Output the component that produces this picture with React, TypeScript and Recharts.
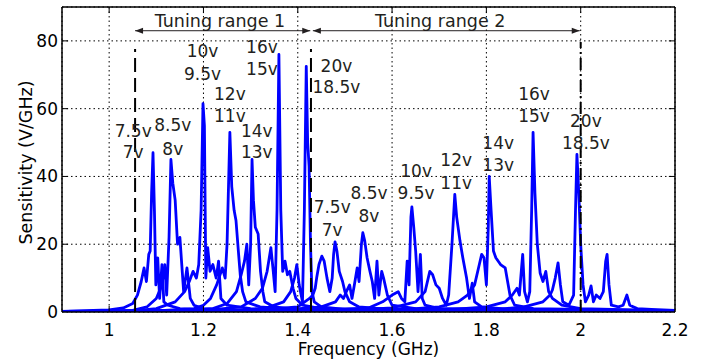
import React from "react";
import {
  LineChart,
  Line,
  XAxis,
  YAxis,
  CartesianGrid,
  ReferenceLine,
  ReferenceDot,
  Label,
} from "recharts";

type Pt = [number, number];

// frequency (GHz), sensitivity (V/GHz)

// tuning range 1
const r1_7v: Pt[] = [
  [0.9, 0.2], [1.0, 0.6], [1.03, 1.2], [1.05, 2.5], [1.06, 5], [1.068, 9], [1.074, 13],
  [1.079, 9], [1.084, 17], [1.087, 18], [1.09, 35], [1.093, 47], [1.096, 30], [1.099, 8],
  [1.103, 16], [1.107, 4], [1.112, 14], [1.116, 3], [1.125, 2], [1.15, 1], [1.2, 0.6],
  [1.3, 0.4], [1.5, 0.3], [2.2, 0.2],
];
const r1_8v: Pt[] = [
  [0.9, 0.1], [1.0, 0.2], [1.05, 0.5], [1.08, 1.5], [1.1, 4], [1.112, 8], [1.118, 14],
  [1.122, 5], [1.127, 22], [1.131, 45], [1.135, 38], [1.14, 33], [1.145, 20], [1.15, 22],
  [1.154, 14], [1.158, 6], [1.165, 13], [1.172, 4], [1.18, 2], [1.2, 1], [1.3, 0.5],
  [1.6, 0.3], [2.2, 0.2],
];
const r1_95v: Pt[] = [
  [0.9, 0.1], [1.05, 0.3], [1.1, 1], [1.14, 3], [1.16, 6], [1.17, 9], [1.178, 12],
  [1.185, 10], [1.19, 14], [1.195, 30], [1.199, 61.5], [1.202, 55], [1.205, 10],
  [1.209, 19], [1.214, 12], [1.22, 14], [1.227, 10], [1.232, 15], [1.237, 4], [1.25, 2],
  [1.3, 1], [1.4, 0.5], [2.2, 0.2],
];
const r1_11v: Pt[] = [
  [0.9, 0.1], [1.1, 0.3], [1.18, 1], [1.2, 2], [1.215, 4], [1.228, 8], [1.24, 13],
  [1.246, 10], [1.25, 20], [1.256, 53], [1.26, 37], [1.265, 30], [1.269, 27], [1.274, 18],
  [1.278, 11], [1.283, 6], [1.29, 3], [1.32, 1.5], [1.4, 0.6], [2.2, 0.2],
];
const r1_13v: Pt[] = [
  [0.9, 0.1], [1.15, 0.3], [1.22, 1], [1.25, 2.5], [1.27, 6], [1.28, 11], [1.287, 15],
  [1.292, 20], [1.296, 8], [1.3, 20], [1.303, 45], [1.306, 33], [1.31, 25], [1.316, 23],
  [1.321, 12], [1.326, 6], [1.33, 3], [1.35, 1.5], [1.4, 0.8], [2.2, 0.2],
];
const r1_15v: Pt[] = [
  [0.9, 0.1], [1.2, 0.4], [1.28, 1.5], [1.31, 4], [1.325, 7], [1.335, 12], [1.343, 19],
  [1.348, 12], [1.352, 6], [1.356, 30], [1.36, 76], [1.364, 30], [1.368, 12], [1.373, 15],
  [1.378, 11], [1.383, 12], [1.39, 7], [1.396, 4], [1.41, 2], [1.45, 1], [2.2, 0.2],
];
const r1_185v: Pt[] = [
  [0.9, 0.1], [1.25, 0.3], [1.33, 1], [1.37, 3], [1.385, 6], [1.393, 10], [1.398, 14],
  [1.403, 8], [1.41, 3], [1.414, 30], [1.418, 72.5], [1.421, 50], [1.424, 43],
  [1.427, 20], [1.43, 6], [1.435, 3], [1.45, 1.5], [1.5, 0.8], [2.2, 0.2],
];

// tuning range 2
const r2_7v: Pt[] = [
  [0.9, 0.2], [1.3, 0.4], [1.4, 1.5], [1.425, 4], [1.432, 5], [1.437, 7], [1.44, 10],
  [1.445, 14], [1.451, 16.5], [1.456, 15], [1.462, 10], [1.468, 6], [1.473, 10],
  [1.476, 17], [1.479, 20.7], [1.483, 18], [1.488, 12], [1.495, 9], [1.5, 6], [1.51, 3],
  [1.53, 1.5], [1.6, 0.7], [2.2, 0.2],
];
const r2_8v: Pt[] = [
  [0.9, 0.2], [1.35, 0.4], [1.45, 1.5], [1.48, 3], [1.49, 5], [1.497, 4], [1.503, 6],
  [1.51, 8], [1.515, 4], [1.52, 8], [1.526, 13], [1.53, 9], [1.535, 20], [1.538, 23.4],
  [1.542, 21], [1.547, 16], [1.553, 12], [1.558, 9], [1.563, 4], [1.568, 15], [1.572, 5],
  [1.578, 12], [1.582, 10], [1.59, 5], [1.6, 2], [1.65, 1], [2.2, 0.3],
];
const r2_95v: Pt[] = [
  [0.9, 0.1], [1.45, 0.4], [1.55, 1.2], [1.58, 3], [1.6, 5], [1.613, 6], [1.62, 4],
  [1.627, 3], [1.632, 15], [1.636, 8], [1.64, 28], [1.642, 31], [1.646, 25], [1.65, 18],
  [1.655, 6], [1.66, 17], [1.664, 4], [1.67, 2], [1.7, 1], [2.2, 0.3],
];
const r2_11v: Pt[] = [
  [0.9, 0.1], [1.5, 0.4], [1.6, 1.2], [1.65, 3], [1.67, 6], [1.68, 12], [1.686, 11],
  [1.693, 8], [1.7, 7], [1.707, 4], [1.715, 2], [1.72, 5], [1.727, 20], [1.733, 34.7],
  [1.737, 28], [1.744, 21], [1.75, 16], [1.758, 10], [1.764, 4], [1.77, 8.5], [1.775, 3],
  [1.79, 1.5], [1.85, 0.8], [2.2, 0.3],
];
const r2_13v: Pt[] = [
  [0.9, 0.1], [1.6, 0.5], [1.7, 1.5], [1.74, 3], [1.76, 5], [1.775, 8], [1.785, 14],
  [1.79, 17], [1.795, 16], [1.8, 8], [1.804, 25], [1.806, 40], [1.81, 30], [1.815, 18],
  [1.82, 16], [1.83, 14], [1.84, 13], [1.845, 9], [1.85, 5], [1.86, 2], [1.9, 1],
  [2.2, 0.3],
];
const r2_15v: Pt[] = [
  [0.9, 0.1], [1.7, 0.5], [1.8, 1.5], [1.84, 3], [1.855, 5], [1.865, 7], [1.87, 5],
  [1.874, 12], [1.877, 17], [1.881, 6], [1.887, 3], [1.892, 6], [1.896, 30], [1.899, 53],
  [1.903, 35], [1.908, 20], [1.914, 11.5], [1.92, 9], [1.926, 12], [1.932, 6], [1.94, 4],
  [1.96, 2], [2.0, 1], [2.2, 0.3],
];
const r2_185v: Pt[] = [
  [0.9, 0.1], [1.8, 0.5], [1.88, 1.5], [1.92, 3], [1.935, 5], [1.94, 6.5], [1.946, 10],
  [1.952, 14.5], [1.957, 8], [1.962, 3], [1.975, 2], [1.985, 5], [1.989, 30],
  [1.992, 46.5], [1.996, 35], [2.0, 20], [2.005, 8], [2.01, 3], [2.017, 5], [2.022, 7.7],
  [2.027, 3], [2.033, 5], [2.041, 4], [2.048, 6], [2.053, 15], [2.056, 17], [2.06, 8],
  [2.065, 2], [2.08, 1.5], [2.09, 2], [2.098, 5], [2.104, 2], [2.12, 1], [2.15, 0.8],
  [2.2, 0.5],
];

const curves: Pt[][] = [
  r1_7v, r1_8v, r1_95v, r1_11v, r1_13v, r1_15v, r1_185v,
  r2_7v, r2_8v, r2_95v, r2_11v, r2_13v, r2_15v, r2_185v,
];

const xTicks = [1, 1.2, 1.4, 1.6, 1.8, 2, 2.2];
const yTicks = [0, 20, 40, 60, 80];

// range boundaries
const edge1 = 1.055;
const edge2 = 1.428;
const edge3 = 2.0;

const rangeNames = ["Tuning range 1", "Tuning range 2"];

// voltage pairs above each peak: [upper, lower, freq, upper y, lower y]
const peakTags: [string, string, number, number, number][] = [
  ["7.5v", "7v", 1.051, 53.3, 47.1],
  ["8.5v", "8v", 1.135, 55.1, 48],
  ["10v", "9.5v", 1.198, 77, 70.2],
  ["12v", "11v", 1.256, 64.3, 57.8],
  ["14v", "13v", 1.313, 53.3, 47.1],
  ["16v", "15v", 1.324, 78.2, 71.7],
  ["20v", "18.5v", 1.482, 72.6, 66.4],
  ["7.5v", "7v", 1.473, 31.1, 24.3],
  ["8.5v", "8v", 1.551, 35, 28.4],
  ["10v", "9.5v", 1.651, 41.5, 35.2],
  ["12v", "11v", 1.736, 45, 38.2],
  ["14v", "13v", 1.825, 49.8, 43.3],
  ["16v", "15v", 1.901, 64.3, 57.8],
  ["20v", "18.5v", 2.011, 56.3, 50],
];

const FONT = "'DejaVu Sans', sans-serif";
const BLUE = "#0000ff";

const tagShape = (text: string, size = 17) => (p: any) => (
  <text
    x={p.cx}
    y={p.cy}
    textAnchor="middle"
    dominantBaseline="central"
    fontFamily={FONT}
    fontSize={size}
    fill="#231f20"
  >
    {text}
  </text>
);

const arrowShape = (p: any) => {
  const { x1, x2, y1 } = p;
  const a = Math.min(x1, x2);
  const b = Math.max(x1, x2);
  return (
    <g>
      <line x1={a} x2={b} y1={y1} y2={y1} stroke="#231f20" strokeWidth={1} />
      <polygon points={`${a},${y1} ${a + 8},${y1 - 3} ${a + 8},${y1 + 3}`} fill="#231f20" />
      <polygon points={`${b},${y1} ${b - 8},${y1 - 3} ${b - 8},${y1 + 3}`} fill="#231f20" />
    </g>
  );
};

export default function App() {
  return (
    <div style={{ position: "absolute", left: 0, top: 0, background: "#fff" }}>
      <LineChart
        width={712}
        height={363}
        margin={{ top: 7, right: 37, bottom: 0, left: 0 }}
        style={{ fontFamily: FONT }}
      >
        <CartesianGrid stroke="#000" strokeDasharray="1.5 3" strokeWidth={1} />
        <XAxis
          dataKey="f"
          type="number"
          domain={[0.9, 2.2]}
          ticks={xTicks}
          allowDataOverflow
          height={51}
          tickLine={false}
          tickSize={0}
          tickMargin={12}
          axisLine={{ stroke: "#000", strokeWidth: 1.5 }}
          tick={{ fill: "#000", fontSize: 17, fontFamily: FONT }}
        >
          <Label
            value="Frequency (GHz)"
            position="insideBottom"
            offset={8}
            fill="#000"
            fontSize={17}
            fontFamily={FONT}
          />
        </XAxis>
        <YAxis
          type="number"
          domain={[0, 90]}
          ticks={yTicks}
          allowDataOverflow
          width={62}
          tickLine={false}
          tickSize={0}
          tickMargin={4}
          axisLine={{ stroke: "#000", strokeWidth: 1.5 }}
          tick={{ fill: "#000", fontSize: 17, fontFamily: FONT }}
        >
          <Label
            content={({ viewBox }: any) => {
              const cx = viewBox.x + 32;
              const cy = viewBox.y + viewBox.height / 2 + 3;
              return (
                <text
                  x={cx}
                  y={cy}
                  transform={`rotate(-90, ${cx}, ${cy})`}
                  textAnchor="middle"
                  fontFamily={FONT}
                  fontSize={17.5}
                  fill="#000"
                >
                  Sensitivity (V/GHz)
                </text>
              );
            }}
          />
        </YAxis>

        {curves.map((c, i) => (
          <Line
            key={i}
            data={c.map(([f, v]) => ({ f, v }))}
            dataKey="v"
            type="linear"
            stroke={BLUE}
            strokeWidth={2.8}
            strokeLinejoin="round"
            dot={false}
            activeDot={false}
            isAnimationActive={false}
          />
        ))}

        {/* box */}
        <ReferenceLine x={2.2} stroke="#000" strokeWidth={1.5} />
        <ReferenceLine y={90} stroke="#000" strokeWidth={1.5} />

        {/* inward ticks */}
        {xTicks.slice(0, -1).map((t) => (
          <ReferenceLine key={`bt${t}`} segment={[{ x: t, y: 0 }, { x: t, y: 1.8 }]} stroke="#000" />
        ))}
        {xTicks.slice(0, -1).map((t) => (
          <ReferenceLine key={`tt${t}`} segment={[{ x: t, y: 90 }, { x: t, y: 88.2 }]} stroke="#000" />
        ))}
        {yTicks.slice(1).map((t) => (
          <ReferenceLine key={`lt${t}`} segment={[{ x: 0.9, y: t }, { x: 0.913, y: t }]} stroke="#000" />
        ))}
        {yTicks.slice(1).map((t) => (
          <ReferenceLine key={`rt${t}`} segment={[{ x: 2.2, y: t }, { x: 2.187, y: t }]} stroke="#000" />
        ))}

        {/* range boundaries */}
        <ReferenceLine
          segment={[{ x: edge1, y: 0 }, { x: edge1, y: 77.6 }]}
          stroke="#000"
          strokeWidth={2}
          strokeDasharray="14 6"
        />
        <ReferenceLine
          segment={[{ x: edge2, y: 0 }, { x: edge2, y: 77.6 }]}
          stroke="#000"
          strokeWidth={2}
          strokeDasharray="14 6"
        />
        <ReferenceLine
          segment={[{ x: edge3, y: 0 }, { x: edge3, y: 79.7 }]}
          stroke="#000"
          strokeWidth={2}
          strokeDasharray="12 4 2 4"
        />

        {/* range arrows */}
        <ReferenceLine segment={[{ x: edge1, y: 83 }, { x: 1.4265, y: 83 }]} shape={arrowShape} />
        <ReferenceLine segment={[{ x: 1.432, y: 83 }, { x: 1.998, y: 83 }]} shape={arrowShape} />
        <ReferenceDot x={1.235} y={86} r={0} shape={tagShape(rangeNames[0], 17.5)} />
        <ReferenceDot x={1.702} y={86} r={0} shape={tagShape(rangeNames[1], 17.5)} />

        {peakTags.map(([up, low, f, yu, yl], i) => (
          <React.Fragment key={`tag${i}`}>
            <ReferenceDot x={f} y={yu} r={0} shape={tagShape(up)} />
            <ReferenceDot x={f} y={yl} r={0} shape={tagShape(low)} />
          </React.Fragment>
        ))}
      </LineChart>
    </div>
  );
}
